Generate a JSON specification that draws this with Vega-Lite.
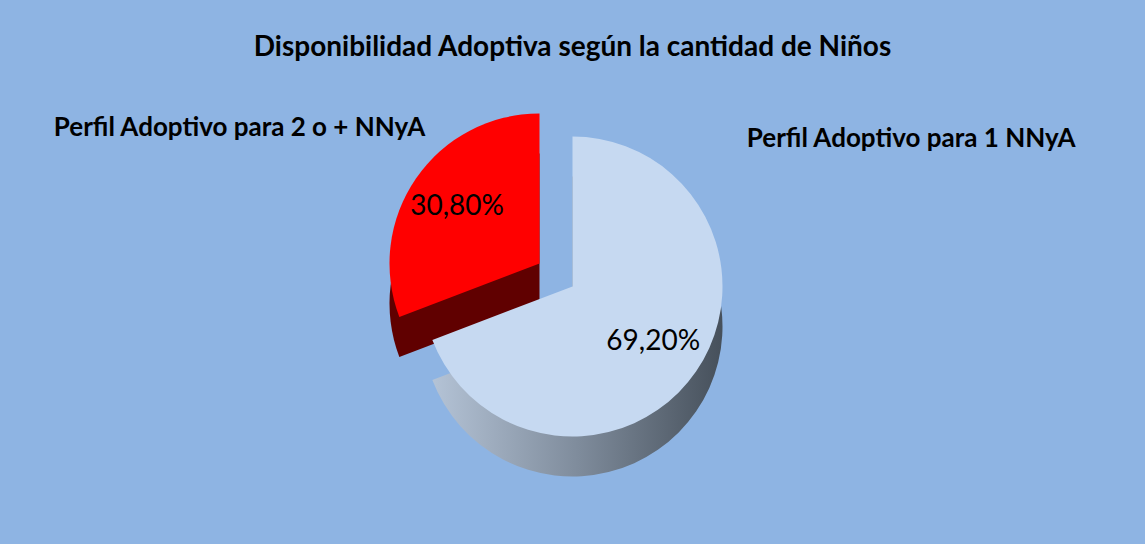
{
  "$schema": "https://vega.github.io/schema/vega-lite/v6.json",
  "width": 1145,
  "height": 544,
  "autosize": {"type": "fit", "contains": "padding"},
  "padding": {"top": 34, "left": 0, "right": 0, "bottom": 0},
  "background": "#8EB4E3",
  "config": {
    "view": {"stroke": null},
    "font": "Lato",
    "locale": {"number": {"decimal": ",", "thousands": ".", "grouping": [3], "currency": ["", " €"]}}
  },
  "title": {
    "text": "Disponibilidad Adoptiva según la cantidad de Niños",
    "fontSize": 28,
    "fontWeight": "bold",
    "color": "#000000",
    "anchor": "middle",
    "offset": 7,
    "font": "Lato"
  },
  "data": {
    "values": [
      {"categoria": "Perfil Adoptivo  para 1 NNyA", "proporcion": 0.692},
      {"categoria": "Perfil Adoptivo  para 2 o + NNyA", "proporcion": 0.308}
    ]
  },
  "encoding": {
    "theta": {"field": "proporcion", "type": "quantitative", "stack": true},
    "order": {"field": "categoria", "type": "ordinal", "sort": "ascending"},
    "detail": {"field": "categoria", "type": "nominal"}
  },
  "layer": [
    {
      "mark": {"type": "arc", "radius": 150, "fill": "#600000", "xOffset": -33, "yOffset": -3},
      "encoding": {"opacity": {"condition": {"test": "datum.categoria == 'Perfil Adoptivo  para 2 o + NNyA'", "value": 1}, "value": 0}}
    },
    {
      "mark": {"type": "arc", "radius": 150, "fill": "#FF0000", "xOffset": -33, "yOffset": -43},
      "encoding": {"opacity": {"condition": {"test": "datum.categoria == 'Perfil Adoptivo  para 2 o + NNyA'", "value": 1}, "value": 0}}
    },
    {
      "mark": {
        "type": "arc", "radius": 150, "yOffset": 20,
        "fill": {"gradient": "linear", "x1": 0, "x2": 1, "y1": 0, "y2": 0,
                 "stops": [{"offset": 0, "color": "#B4C3D6"}, {"offset": 0.5, "color": "#7F8C9C"}, {"offset": 1, "color": "#46505B"}]}
      },
      "encoding": {"opacity": {"condition": {"test": "datum.categoria == 'Perfil Adoptivo  para 1 NNyA'", "value": 1}, "value": 0}}
    },
    {
      "mark": {"type": "arc", "radius": 150, "fill": "#C6D9F1", "yOffset": -20},
      "encoding": {"opacity": {"condition": {"test": "datum.categoria == 'Perfil Adoptivo  para 1 NNyA'", "value": 1}, "value": 0}}
    },
    {
      "mark": {"type": "text", "radius": 100, "fontSize": 28, "color": "#000000", "xOffset": -33, "yOffset": -43},
      "encoding": {
        "text": {"field": "proporcion", "type": "quantitative", "format": ".2%"},
        "opacity": {"condition": {"test": "datum.categoria == 'Perfil Adoptivo  para 2 o + NNyA'", "value": 1}, "value": 0}
      }
    },
    {
      "mark": {"type": "text", "radius": 98, "fontSize": 28, "color": "#000000", "yOffset": -20},
      "encoding": {
        "text": {"field": "proporcion", "type": "quantitative", "format": ".2%"},
        "opacity": {"condition": {"test": "datum.categoria == 'Perfil Adoptivo  para 1 NNyA'", "value": 1}, "value": 0}
      }
    },
    {
      "mark": {"type": "text", "radius": 378, "fontSize": 26, "fontWeight": "bold", "color": "#000000"},
      "encoding": {
        "theta": {"field": "proporcion", "type": "quantitative", "stack": true, "scale": {"range": [2.625, -1.752]}},
        "text": {"field": "categoria", "type": "nominal"}
      }
    }
  ],
  "resolve": {"scale": {"theta": "independent"}}
}
